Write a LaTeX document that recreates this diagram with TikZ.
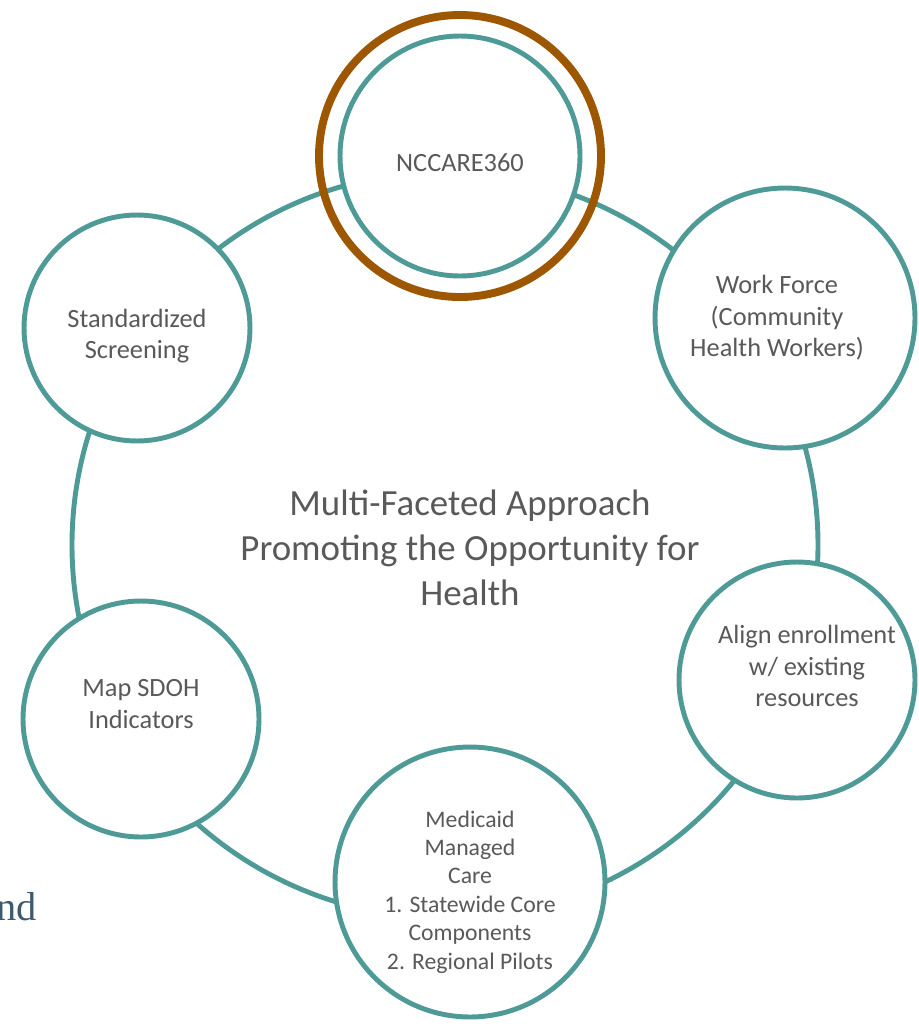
\documentclass[tikz,border=0pt]{standalone}
\usepackage{fontspec}
\setmainfont{Carlito}
\newfontfamily\bodyserif{Liberation Serif}
\definecolor{ringteal}{HTML}{4E9A96}
\definecolor{ringorange}{HTML}{9C5700}
\definecolor{facettext}{HTML}{595959}
\definecolor{pagetext}{HTML}{3E5A6E}

\tikzset{
  facet/.style={circle,draw=ringteal,line width=2.8pt,fill=white,inner sep=0pt},
  facetlabel/.style={text=facettext,align=center,inner sep=0pt,
    font=\fontsize{15}{18}\selectfont},
}

\begin{document}
\begin{tikzpicture}[x=0.02cm,y=-0.02cm,line cap=round,line join=round]
  \useasboundingbox (0,0) rectangle (919,1028);
  % ring that ties the facets together
  \coordinate (hub) at (445,545);
  \draw[ringteal,line width=2.8pt] (hub) circle (373);
  \node[facetlabel,font=\fontsize{21}{25.5}\selectfont] (approach) at (470,548)
    {Multi-Faceted Approach\\Promoting the Opportunity for\\Health};

  % highlighted facet on top
  \draw[ringorange,line width=4.5pt] (460,156) circle (141);
  \node[facet,minimum size=4.8cm] (nccare) at (460,156) {};
  \node[facetlabel] (nccare-text) at ([shift={(0,7)}]nccare) {NCCARE360};

  \node[facet,minimum size=5.2cm] (workforce) at (785,318) {};
  \node[facetlabel] (workforce-text) at ([shift={(-8,0)}]workforce)
    {Work Force\\(Community\\Health Workers)};

  \node[facet,minimum size=4.72cm] (align) at (797,680) {};
  \node[facetlabel] (align-text) at ([shift={(10,-14)}]align)
    {Align enrollment\\w/ existing\\resources};

  \node[facet,minimum size=5.4cm] (medicaid) at (470,882) {};
  \node[facetlabel,font=\fontsize{13.5}{16.2}\selectfont] (medicaid-text) at ([shift={(0,10)}]medicaid)
    {Medicaid\\Managed\\Care\\1. Statewide Core\\Components\\2. Regional Pilots};

  \node[facet,minimum size=4.72cm] (sdoh) at (141,719) {};
  \node[facetlabel] (sdoh-text) at ([shift={(0,-15)}]sdoh) {Map SDOH\\Indicators};

  \node[facet,minimum size=4.52cm] (screening) at (137,328) {};
  \node[facetlabel] (screening-text) at ([shift={(0,8)}]screening) {Standardized\\Screening};

  % stray word from the page behind
  \node[anchor=base west,inner sep=0pt,text=pagetext,font=\bodyserif\fontsize{23}{27}\selectfont] (pageword) at (-4,920) {nd};
\end{tikzpicture}
\end{document}
